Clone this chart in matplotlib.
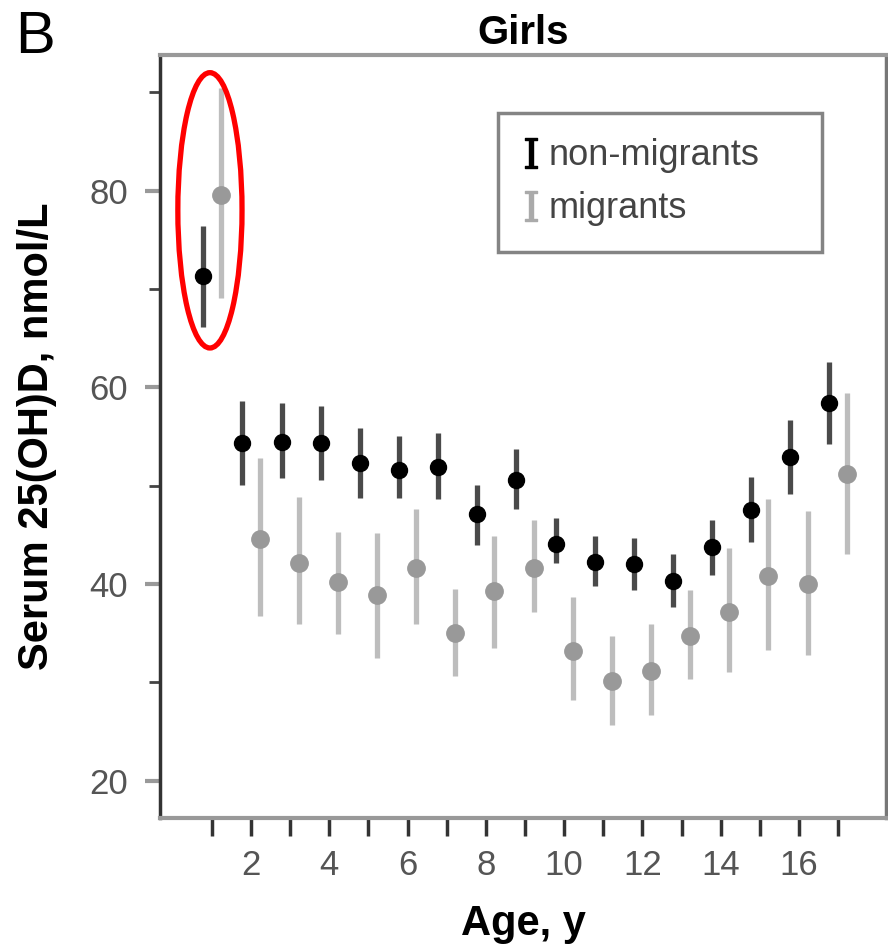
import matplotlib
matplotlib.use("Agg")
import matplotlib.pyplot as plt
from matplotlib.lines import Line2D
from matplotlib.patches import Ellipse
import numpy as np

plt.rcParams['font.family'] = ['Liberation Sans', 'DejaVu Sans']
plt.rcParams['mathtext.fontset'] = 'dejavuserif'

ages = [1, 2, 3, 4, 5, 6, 7, 8, 9, 10, 11, 12, 13, 14, 15, 16, 17]
nm_mean = [71.3, 54.3, 54.4, 54.3, 52.3, 51.6, 51.9, 47.1, 50.6, 44.1, 42.2, 42.0, 40.3, 43.8, 47.5, 52.9, 58.4]
nm_low = [66.1, 50.1, 50.8, 50.6, 48.7, 48.7, 48.6, 44.0, 47.6, 42.1, 39.8, 39.4, 37.7, 40.9, 44.3, 49.2, 54.2]
nm_high = [76.4, 58.6, 58.4, 58.1, 55.9, 55.0, 55.4, 50.1, 53.7, 46.7, 44.9, 44.7, 43.0, 46.5, 50.9, 56.7, 62.6]
m_mean = [79.6, 44.6, 42.1, 40.2, 38.9, 41.6, 35.0, 39.3, 41.6, 33.2, 30.1, 31.1, 34.7, 37.2, 40.8, 40.0, 51.2]
m_low = [69.1, 36.7, 35.9, 34.9, 32.5, 35.9, 30.6, 33.5, 37.1, 28.2, 25.7, 26.7, 30.3, 31.0, 33.3, 32.8, 43.0]
m_high = [90.4, 52.8, 48.8, 45.3, 45.2, 47.6, 39.5, 44.9, 46.5, 38.7, 34.7, 35.9, 39.4, 43.7, 48.6, 47.4, 59.4]
major_ticks = [2, 4, 6, 8, 10, 12, 14, 16]
minor_ticks = [1, 3, 5, 7, 9, 11, 13, 15, 17]
y_major = [20, 40, 60, 80]
y_minor = [30, 50, 70, 90]

fig = plt.figure(figsize=(8.88, 9.46), dpi=100)
ax = fig.add_axes([0.180, 0.1353, 0.818, 0.8066])

a = np.array(ages, dtype=float)
off = 0.22
nm_m = np.array(nm_mean); m_m = np.array(m_mean)
nm_err = [nm_m - np.array(nm_low), np.array(nm_high) - nm_m]
m_err = [m_m - np.array(m_low), np.array(m_high) - m_m]

ax.errorbar(a - off, nm_m, yerr=nm_err, fmt='o', color='black', ecolor='#4a4a4a',
            elinewidth=3.8, capsize=0, markersize=11.5, zorder=3)
ax.errorbar(a + off, m_m, yerr=m_err, fmt='o', color='#999999', ecolor='#bdbdbd',
            elinewidth=3.8, capsize=0, markersize=12.5, zorder=2)

ax.set_xlim(-0.33, 18.23)
ax.set_ylim(16.2, 93.8)
ax.set_xticks(major_ticks)
ax.set_xticks(minor_ticks, minor=True)
ax.set_yticks(y_major)
ax.set_yticks(y_minor, minor=True)
ax.tick_params(axis='x', which='both', direction='out', length=13, width=2.5,
               color='#333333', labelsize=25, labelcolor='#555555', pad=9)
ax.tick_params(axis='y', which='major', direction='out', length=11, width=3,
               color='#999999', labelsize=25, labelcolor='#555555', pad=12)
ax.tick_params(axis='y', which='minor', direction='out', length=8, width=2,
               color='#444444')

ax.spines['left'].set_color('#333333'); ax.spines['left'].set_linewidth(2.5)
ax.spines['bottom'].set_color('#999999'); ax.spines['bottom'].set_linewidth(3)
ax.spines['top'].set_color('#999999'); ax.spines['top'].set_linewidth(3)
ax.spines['right'].set_color('#777777'); ax.spines['right'].set_linewidth(2.5)

ax.set_xlabel('Age, y', fontsize=30, fontweight='bold')
ax.set_ylabel('Serum 25(OH)D, nmol/L', fontsize=30, fontweight='bold')
ax.xaxis.set_label_coords(0.5, -0.113)
ax.yaxis.set_label_coords(-0.142, 0.5)
ax.set_title('Girls', fontsize=29, fontweight='bold', pad=8)
fig.text(15 / 888, 1 - 53 / 946, 'B', fontsize=43, va='baseline', ha='left')

ell = Ellipse((0.95, 78.0), 1.64, 28.0, fill=False, edgecolor='red', linewidth=3.8, zorder=4)
ax.add_patch(ell)

handles = [Line2D([], [], linestyle='None', marker=r'$\mathrm{I}$', color='black', markersize=22),
           Line2D([], [], linestyle='None', marker=r'$\mathrm{I}$', color='#aaaaaa', markersize=22)]
leg = ax.legend(handles, ['non-migrants', 'migrants'], loc='upper left',
                bbox_to_anchor=(0.4656, 0.744, 0.446, 0.18), mode='expand',
                fontsize=26, frameon=True, fancybox=False,
                handlelength=0.4, handletextpad=0.3, borderpad=0.7, labelspacing=0.5,
                borderaxespad=0)
leg.get_frame().set_edgecolor('#666666')
leg.get_frame().set_linewidth(2.5)
for t in leg.get_texts():
    t.set_color('#444444')

fig.savefig('out.png', dpi=100)
